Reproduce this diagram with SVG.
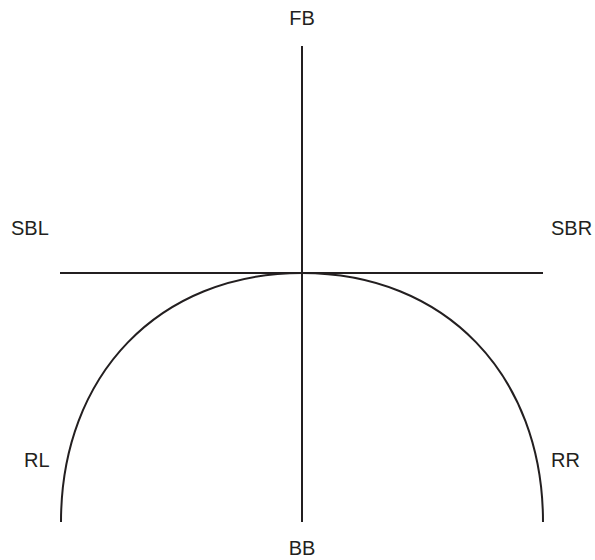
<svg xmlns="http://www.w3.org/2000/svg" width="595" height="560" viewBox="0 0 595 560">
<style>
.ln{stroke:#231f20;stroke-width:2;fill:none}
.lb{font-family:"Liberation Sans",Arial,sans-serif;font-size:20px;fill:#231f20}
</style>
<rect width="595" height="560" fill="#fff"/>
<g id="connectors">
<line class="ln" x1="302" y1="46" x2="302" y2="522"/>
<line class="ln" x1="60" y1="273" x2="543" y2="273"/>
<path class="ln" d="M61,522 C61,375 159,273 302,273 C445,273 543,375 543,522"/>
</g>
<g id="FB"><text class="lb" x="302" y="25" text-anchor="middle">FB</text></g>
<g id="SBL"><text class="lb" x="11" y="235">SBL</text></g>
<g id="SBR"><text class="lb" x="551" y="235">SBR</text></g>
<g id="RL"><text class="lb" x="24" y="467">RL</text></g>
<g id="RR"><text class="lb" x="551" y="467">RR</text></g>
<g id="BB"><text class="lb" x="302" y="555" text-anchor="middle">BB</text></g>
</svg>
